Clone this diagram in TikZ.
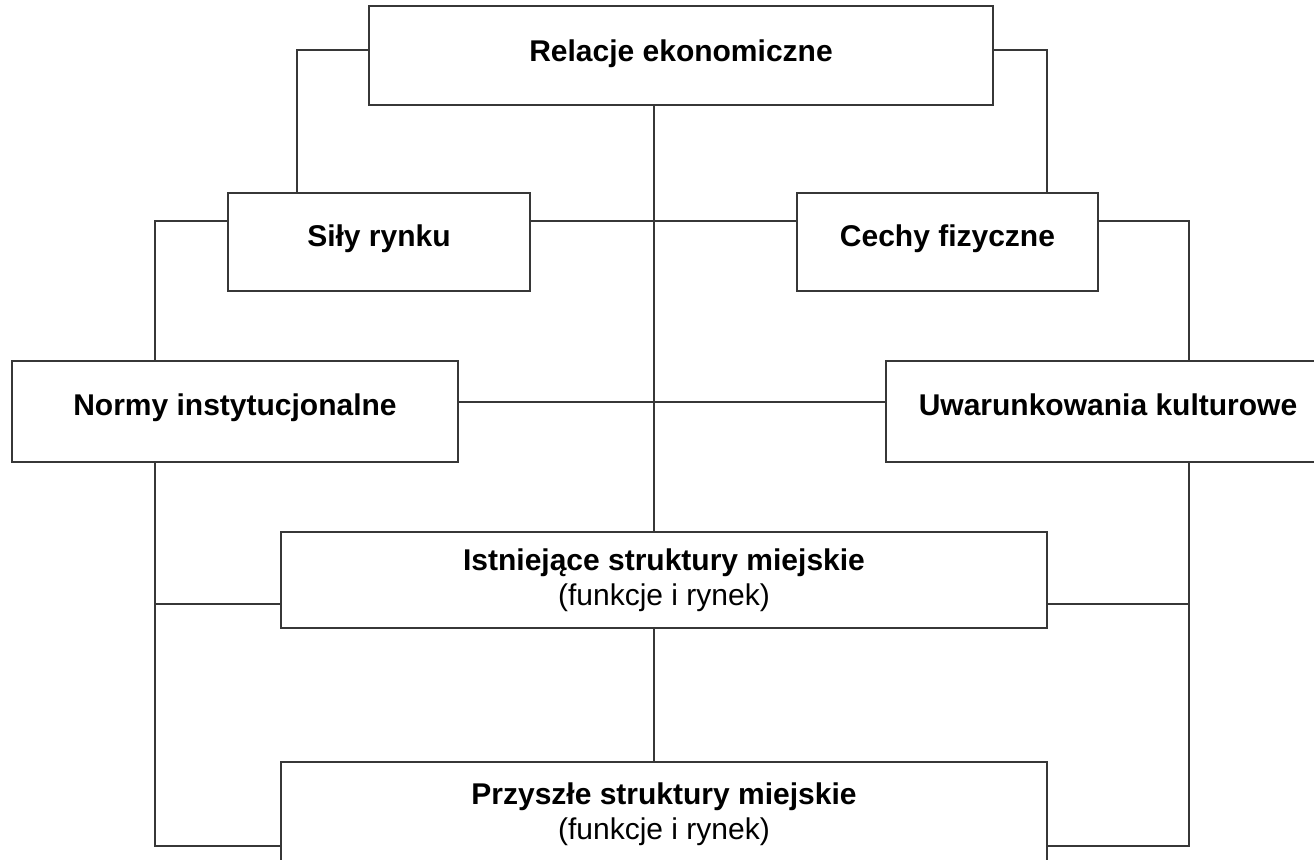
\documentclass[tikz,border=0pt]{standalone}
\usepackage{fontspec}
\setmainfont{Liberation Sans}
\usepackage{tikz}
\usetikzlibrary{positioning, calc}
\definecolor{wiregray}{RGB}{55, 55, 55}

\begin{document}
\begin{tikzpicture}[
        x=0.5pt, y=-0.5pt,
        every node/.style={font=\fontsize{15}{17.5}\selectfont},
        box/.style={draw=wiregray, line width=1pt, fill=white, inner sep=0pt,
                    text height=10.7pt, text depth=6.5pt, font=\fontsize{15}{17.5}\selectfont\bfseries},
        twoline/.style={draw=wiregray, line width=1pt, fill=white, inner sep=0pt, align=center},
        wire/.style={draw=wiregray, line width=1pt}
      ]
        % Page
        \fill[white] (0,0) rectangle (1314,859);
        \useasboundingbox (0,0) rectangle (1314,859);
        \clip (0,0) rectangle (1314,859);

        % Top row
        \node[box, text depth=5pt, minimum width=312pt, minimum height=49.5pt] (rel) at (681,55.5) {Relacje ekonomiczne};
        \node[box, minimum width=151pt, minimum height=49pt] (sily) at (379,242) {Siły rynku};
        \node[box, minimum width=150.5pt, minimum height=49pt] (cechy) at (947.5,242) {Cechy fizyczne};

        % Middle row (right box runs off the page)
        \node[box, minimum width=223pt, minimum height=50.5pt] (normy) at (235,411.5) {Normy instytucjonalne};
        \node[box, minimum width=222pt, minimum height=50.5pt] (uwar) at (1108,411.5) {Uwarunkowania kulturowe};

        % Urban structures
        \node[twoline, minimum width=383pt, minimum height=48pt] (istn) at (664,580)
          {\textbf{Istniejące struktury miejskie}\\(funkcje i rynek)};
        \node[twoline, minimum width=383pt, minimum height=52pt] (przy) at (664,814)
          {\textbf{Przyszłe struktury miejskie}\\(funkcje i rynek)};

        % Rails
        \coordinate (lrail) at ([xshift=-40pt]normy.south);
        \coordinate (rrail) at ([xshift=40.5pt]uwar.south);

        % Connectors
        \draw[wire] ([yshift=2.75pt]rel.west) -| ([xshift=-41pt]sily.north);
        \draw[wire] ([yshift=2.75pt]rel.east) -| ([xshift=49.75pt]cechy.north);
        \draw[wire] ([xshift=-5pt]istn.north) -- ([xshift=-5pt]istn.north |- rel.south);
        \draw[wire] ([yshift=10.5pt]sily.east) -- ([yshift=10.5pt]cechy.west);
        \draw[wire] ([yshift=10.5pt]sily.west) -| ([xshift=-40pt]normy.north);
        \draw[wire] ([yshift=10.5pt]cechy.east) -| ([xshift=40.5pt]uwar.north);
        \draw[wire] ([yshift=4.75pt]normy.east) -- ([yshift=4.75pt]uwar.west);
        \draw[wire] (lrail) |- ([yshift=-16pt]przy.west);
        \draw[wire] (rrail) |- ([yshift=-16pt]przy.east);
        \draw[wire] ([yshift=-12pt]istn.west) -| (lrail);
        \draw[wire] ([yshift=-12pt]istn.east) -| (rrail);
        \draw[wire] ([xshift=-5pt]istn.south) -- ([xshift=-5pt]przy.north);
      \end{tikzpicture}
\end{document}
